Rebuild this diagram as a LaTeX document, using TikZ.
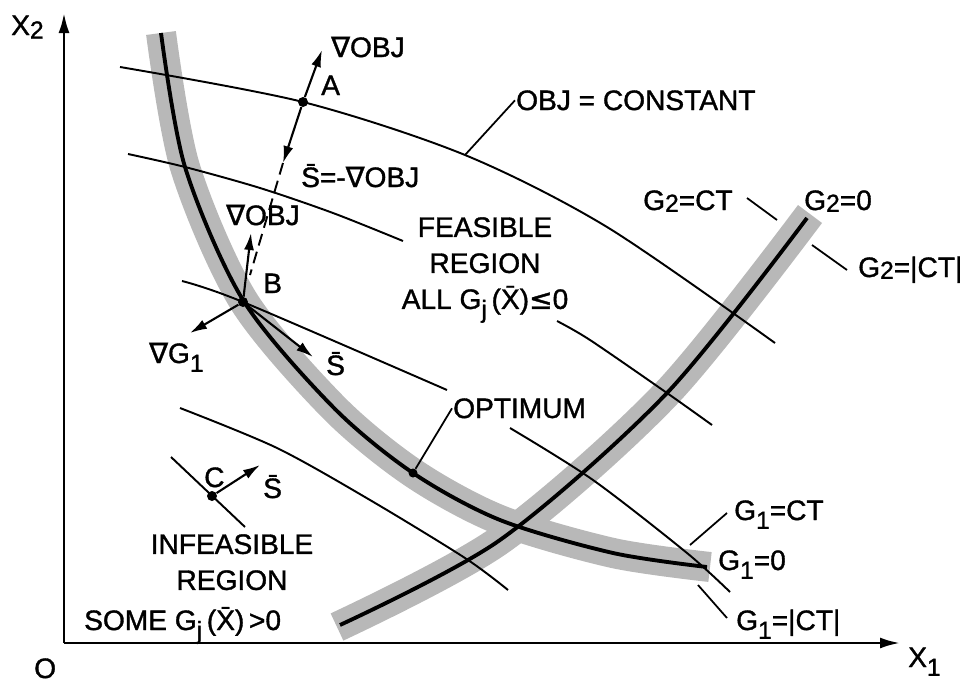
\documentclass[tikz,border=0pt]{standalone}
\usepackage{fontspec}
\setmainfont{Liberation Sans}[FakeBold=1.2]
\newfontfamily\symfnt{DejaVu Sans}[FakeBold=1.2]
\usetikzlibrary{arrows.meta}
\tikzset{
  lbl/.style={font=\fontsize{16}{20.5}\selectfont, inner sep=0.5pt},
  ar/.style={-{Latex[length=3.4mm,width=2mm]}, line width=1.2pt},
  dsh/.style={line width=1.1pt, dash pattern=on 2.4mm off 1.3mm},
  axis/.style={-{Latex[length=4mm,width=2.2mm]}, line width=1.5pt},
  contour/.style={line width=1.1pt},
  bound/.style={line width=2.2pt},
  band/.style={line width=6mm, draw=black!28},
  leader/.style={line width=1pt},
  pt/.style={circle, fill=black, inner sep=0pt, minimum size=2mm},
}
\newcommand\gradsym{{\symfnt ∇}}
\newcommand\lowidx[2][3pt]{\raisebox{-#1}{\fontsize{14}{14}\selectfont #2}}

\begin{document}
\begin{tikzpicture}[x=0.2mm,y=-0.2mm]
\useasboundingbox (0,0) rectangle (978,682);

% ---- shaded bands of the two constraints ----
\draw[band] plot[smooth] coordinates {(161,33) (185,167) (243,300) (333,407)
  (413,473) (500,520) (613,553) (710,567)};
\draw[band] plot[smooth] coordinates {(337,627) (500,540) (667,393) (810,214)};

% ---- axes ----
\coordinate (orig) at (64,643);
\coordinate (xend) at (900,643);
\coordinate (yend) at (64,13);
\draw[axis] (orig) -- (xend);
\draw[axis] (orig) -- (yend);
\node[lbl, anchor=base west] (x2) at (10,35) {X\lowidx[2pt]{2}};
\node[lbl, anchor=base west] (x1) at (907,667) {X\lowidx[5pt]{1}};
\node[lbl, anchor=base west] (o) at (33,678) {O};

% ---- OBJ = constant contours ----
\draw[contour] plot[smooth] coordinates {(120,67) (303,102) (465,155) (607,227) (775,343)};
\draw[contour] plot[smooth] coordinates {(128,154) (185,167) (260,188) (333,213) (403,241)};
\draw[contour] plot[smooth] coordinates {(557,321) (590,340) (667,393) (712,425)};
\draw[contour] plot[smooth] coordinates {(182,281) (243,302) (447,390)};
\draw[contour] plot[smooth] coordinates {(510,428) (593,480) (687,553) (730,592)};
\draw[contour] plot[smooth] coordinates {(180,408) (277,448) (370,500) (465,558) (508,590)};
\draw[contour] (171,457) -- (245,527);

% ---- constraint boundaries G1 = 0, G2 = 0 ----
\draw[bound] plot[smooth] coordinates {(161,33) (185,167) (243,300) (333,407)
  (413,473) (500,520) (613,553) (707,567)};
\draw[bound] plot[smooth] coordinates {(340,625) (500,540) (667,393) (807,218)};

% ---- design points ----
\node[pt] (A) at (303,102) {};
\node[pt] (B) at (243,302) {};
\node[pt] (C) at (212,496) {};
\node[pt, minimum size=1.8mm] (opt) at (413,473) {};

% ---- search directions ----
\coordinate (gA) at (322,50);
\coordinate (sA) at (283,163);
\coordinate (sAend) at (250,275);
\coordinate (gB) at (251,233);
\coordinate (g1B) at (190,333);
\coordinate (sB) at (313,357);
\coordinate (sC) at (260,465);
\draw[ar] (A) -- (gA);
\draw[ar] (A) -- (sA);
\draw[dsh] (sA) -- (sAend);
\draw[ar] (B) -- (gB);
\draw[ar] (B) -- (g1B);
\draw[ar] (B) -- (sB);
\draw[ar] (C) -- (sC);

% ---- labels at the points ----
\node[lbl, anchor=base west] (lgA) at (330,57) {\gradsym OBJ};
\node[lbl, anchor=base west] (lA) at (320,95) {A};
\node[lbl, anchor=base west] (lsA) at (300,187) {\={S}=-\gradsym OBJ};
\node[lbl, anchor=base west] (lgB) at (225,225) {\gradsym OBJ};
\node[lbl, anchor=base west] (lB) at (262,293) {B};
\node[lbl, anchor=base west] (lg1B) at (148,363) {\gradsym G\lowidx[5pt]{1}};
\node[lbl, anchor=base west] (lsB) at (325,375) {\={S}};
\node[lbl, anchor=base west] (lC) at (203,487) {C};
\node[lbl, anchor=base west] (lsC) at (262,498) {\={S}};

% ---- region labels ----
\node[lbl, align=center, anchor=north] (feas) at (485,216)
  {FEASIBLE\\REGION\\ALL G\lowidx[5pt]{j}\,(\={X}){\symfnt ≤}0};
\node[lbl, align=center, anchor=north] (infeas) at (232,533)
  {INFEASIBLE\\REGION};
\node[lbl, anchor=base west] (some) at (83,630) {SOME G\lowidx[5pt]{j}\,(\={X})\,>0};

% ---- callouts ----
\node[lbl, anchor=base west] (objc) at (515,110) {OBJ = CONSTANT};
\coordinate (kobj) at (465,155);
\draw[leader] (objc.west) -- (kobj);

\node[lbl, anchor=base west] (lopt) at (452,418) {OPTIMUM};
\draw[leader] (lopt.west) -- (opt);

\node[lbl, anchor=base west] (g2ct) at (642,210) {G\lowidx[1pt]{2}=CT};
\node[lbl, anchor=base west] (g2z) at (803,210) {G\lowidx[1pt]{2}=0};
\node[lbl, anchor=base west] (g2abs) at (857,277) {G\lowidx[1pt]{2}=|CT|};
\coordinate (k2a) at (747,198);
\coordinate (k2b) at (777,220);
\coordinate (k2c) at (812,245);
\coordinate (k2d) at (847,270);
\draw[leader] (k2a) -- (k2b);
\draw[leader] (k2c) -- (k2d);

\node[lbl, anchor=base west] (g1ct) at (733,520) {G\lowidx[5pt]{1}=CT};
\node[lbl, anchor=base west] (g1z) at (717,570) {G\lowidx[5pt]{1}=0};
\node[lbl, anchor=base west] (g1abs) at (735,630) {G\lowidx[5pt]{1}=|CT|};
\coordinate (k1a) at (727,513);
\coordinate (k1b) at (690,545);
\coordinate (k1c) at (698,585);
\coordinate (k1d) at (727,618);
\draw[leader] (k1a) -- (k1b);
\draw[leader] (k1c) -- (k1d);

\end{tikzpicture}
\end{document}
